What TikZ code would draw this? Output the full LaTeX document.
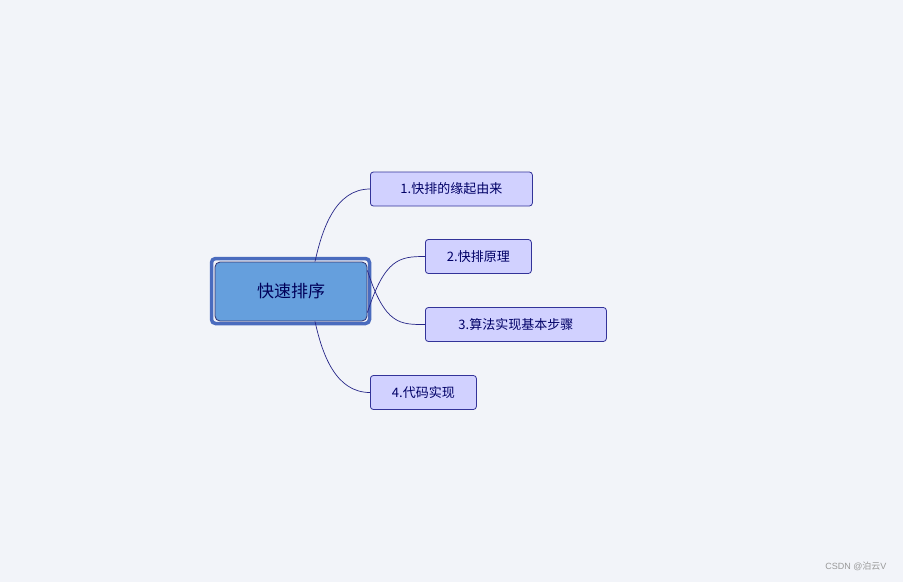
\documentclass[tikz,border=0pt]{standalone}
\usepackage{fontspec}
\newfontfamily\cjk{Noto Sans CJK SC}
\begin{document}
\begin{tikzpicture}[x=1pt,y=-1pt,
  child/.style={draw=blue!50!black!80, line width=0.8pt, fill=blue!18!white, rounded corners=3pt, text=blue!40!black, font=\cjk\fontsize{13}{13}\selectfont, minimum height=34pt, inner xsep=5pt, anchor=west},
  link/.style={draw=blue!45!black!85, line width=0.7pt}]
\definecolor{bg}{HTML}{F2F4F9}
\definecolor{centralfill}{HTML}{659FDD}
\definecolor{frame}{HTML}{4A6BBE}
\fill[bg] (0,0) rectangle (903,582);
\useasboundingbox (0,0) rectangle (903,582);
\draw[frame, line width=3.5pt, rounded corners=4pt] (211.5,258.5) rectangle (369.5,323.5);
\node[draw=blue!30!black!80, line width=0.8pt, fill=centralfill, rounded corners=5pt, minimum width=152pt, minimum height=59pt, text=blue!35!black, font=\cjk\fontsize{17}{17}\selectfont] (c) at (291,291.5) {快速排序};
\node[child, minimum width=162pt] (a) at (370,189) {1.快排的缘起由来};
\node[child, minimum width=106pt] (b) at (425,256.5) {2.快排原理};
\node[child, minimum width=181pt] (d) at (425,324.5) {3.算法实现基本步骤};
\node[child, minimum width=106pt] (e) at (370,392.5) {4.代码实现};
\draw[link] ([xshift=24pt]c.north) .. controls (322,230) and (335,189) .. (a.west);
\draw[link] ([yshift=-21pt]c.east) .. controls (385,258) and (400,256.5) .. (b.west);
\draw[link] ([yshift=21pt]c.east) .. controls (385,325) and (400,324.5) .. (d.west);
\draw[link] ([xshift=24pt]c.south) .. controls (322,353) and (335,392.5) .. (e.west);
\node[text=gray!80, font=\fontspec{Liberation Sans}\fontsize{9}{9}\selectfont, anchor=east] (w) at (890,566) {CSDN @{\cjk 泊云}V};
\end{tikzpicture}
\end{document}
